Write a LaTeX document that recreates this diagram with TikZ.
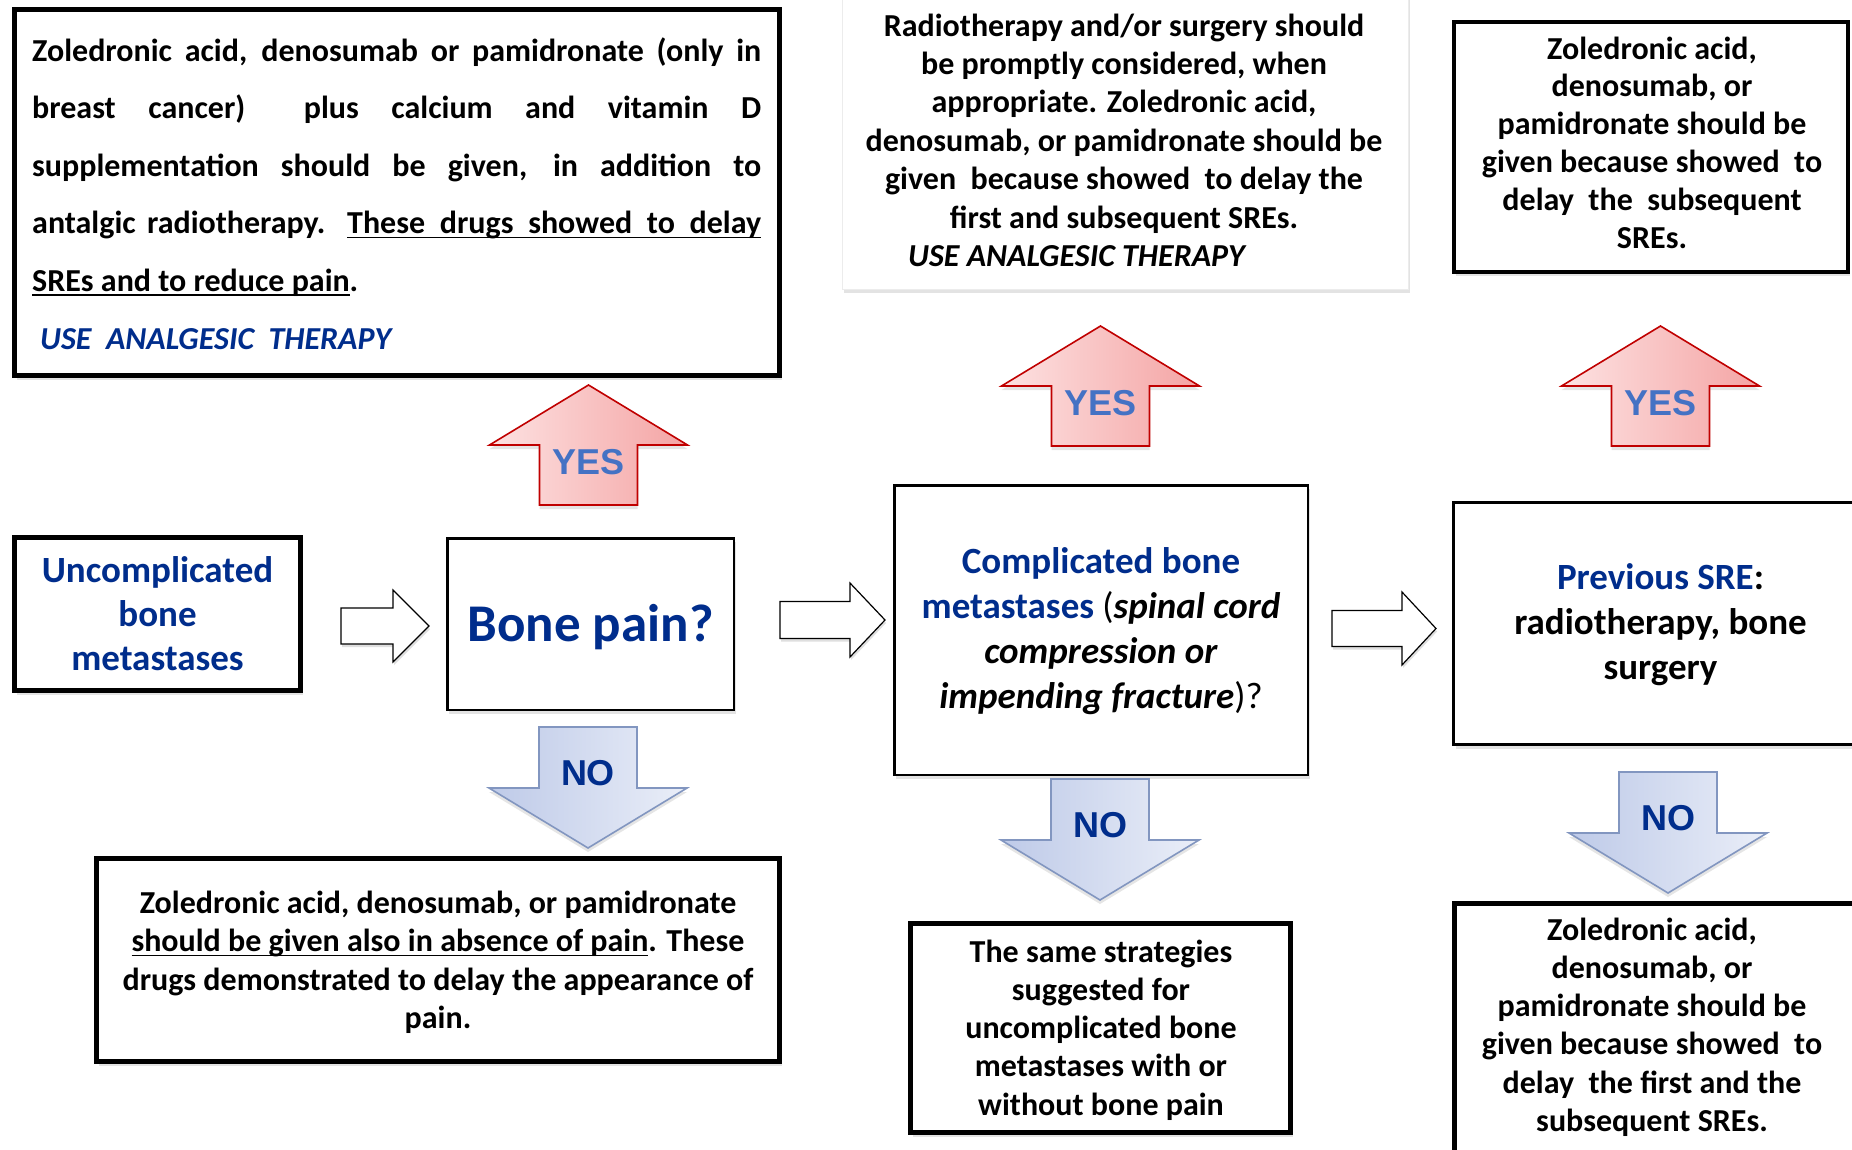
\documentclass[tikz,border=0pt]{standalone}
\usepackage{fontspec}
\setmainfont{Carlito}
\newfontfamily\arialf{Liberation Sans}
\usetikzlibrary{shadows,calc}
\definecolor{navy}{RGB}{0,45,140}
\definecolor{yesblue}{RGB}{68,114,196}
\definecolor{yesborder}{RGB}{192,0,0}
\definecolor{yesL}{RGB}{253,226,226}
\definecolor{yesR}{RGB}{244,164,164}
\definecolor{noborder}{RGB}{130,150,192}
\definecolor{noL}{RGB}{190,202,232}
\definecolor{noR}{RGB}{234,238,248}
\newcommand{\mytb}[4]{\parbox[t]{#1}{\centering\fontsize{#2}{#3}\selectfont\bfseries #4}}
\newsavebox\myulbox
\newcommand{\myul}[1]{\leavevmode\mbox{\sbox\myulbox{#1}\rlap{\usebox\myulbox}\rule[-4.6pt]{\wd\myulbox}{1.6pt}}}
\begin{document}
\begin{tikzpicture}[x=1pt,y=-1pt,
  box/.style={draw=black, fill=white, inner sep=0pt,
    drop shadow={shadow xshift=2pt,shadow yshift=-4pt,opacity=0.22}},
  txt/.style={inner sep=0pt, anchor=base},
  yesfill/.style={draw=yesborder, line width=1.6pt, left color=yesL, right color=yesR,
    drop shadow={shadow xshift=0pt,shadow yshift=-4pt,opacity=0.2}},
  nofill/.style={draw=noborder, line width=1.6pt, left color=noL, right color=noR,
    drop shadow={shadow xshift=0pt,shadow yshift=-4pt,opacity=0.2}},
  hollow/.style={draw=black, line width=1.2pt, fill=white,
    drop shadow={shadow xshift=1pt,shadow yshift=-3pt,opacity=0.25}},
  yeslbl/.style={inner sep=0pt, text=yesblue, font=\arialf\bfseries\fontsize{36}{40}\selectfont},
  nolbl/.style={inner sep=0pt, text=navy, font=\arialf\bfseries\fontsize{36}{40}\selectfont},
  yesarrow/.pic={\path[yesfill] (0,0) -- (99,60) -- (49,60) -- (49,120) -- (-49,120) -- (-49,60) -- (-99,60) -- cycle;
    \node[yeslbl] (-t) at (0,77) {YES};},
  noarrow/.pic={\path[nofill] (0,0) -- (99,-60) -- (49,-60) -- (49,-121) -- (-49,-121) -- (-49,-60) -- (-99,-60) -- cycle;
    \node[nolbl] (-t) at (0,-75) {NO};}
]
\useasboundingbox (0,0) rectangle (1852,1149);
\fill[white] (0,0) rectangle (1852,1149);

% boxes
\node[box, line width=5pt, minimum width=765pt, minimum height=366pt] (tl) at (397,192.5) {};
\node[box, draw=gray!15, line width=1pt, minimum width=566pt, minimum height=298pt] (tm) at (1125,140) {};
\node[box, line width=4pt, minimum width=394pt, minimum height=250pt] (tr) at (1651,147) {};
\node[box, line width=5pt, minimum width=286pt, minimum height=153pt] (unc) at (157.5,614) {};
\node[box, line width=2.5pt, minimum width=286.5pt, minimum height=171.5pt] (bone) at (590.5,624) {};
\node[box, line width=2.5pt, minimum width=413.5pt, minimum height=289.5pt] (comp) at (1101,630) {};
\node[box, line width=3pt, minimum width=415pt, minimum height=242pt] (prev) at (1661,623.5) {};
\node[box, line width=5pt, minimum width=683pt, minimum height=203pt] (bl) at (438,960) {};
\node[box, line width=5pt, minimum width=380pt, minimum height=209pt] (bm) at (1100.5,1028) {};
\node[box, line width=5pt, minimum width=413pt, minimum height=269pt] (br) at (1661,1038) {};

% texts
\node[txt, anchor=base west] (tl-t) at (32,61) {\parbox[t]{729pt}{\fontsize{32}{57.5}\selectfont\bfseries
  \makebox[729pt][s]{Zoledronic acid, denosumab or pamidronate (only in}\\
  \makebox[729pt][s]{breast cancer)\hspace{26pt} plus calcium and vitamin D}\\
  \makebox[729pt][s]{supplementation should be given, in addition to}\\
  \makebox[729pt][s]{antalgic radiotherapy. \myul{\makebox[414pt][s]{These drugs showed to delay}}}\\
  \myul{SREs and to reduce pain}.}};
\node[txt, anchor=base west, text=navy] (tl-u) at (40,349) {\fontsize{32}{38}\selectfont\bfseries\itshape USE\ \ ANALGESIC\ \ THERAPY};

\node[txt] (tm-t) at (1124,36) {\mytb{560pt}{32}{38.4}{Radiotherapy and/or surgery should\\ be promptly considered, when\\ appropriate. Zoledronic acid,\\ denosumab, or pamidronate should be\\ given\ \ because showed\ \ to delay the\\ first and subsequent SREs.}};
\node[txt, anchor=base west] (tm-u) at (908,266) {\fontsize{32}{38}\selectfont\bfseries\itshape USE ANALGESIC THERAPY};

\node[txt] (tr-t) at (1652,59) {\mytb{400pt}{32}{37.8}{Zoledronic acid,\\ denosumab, or\\ pamidronate should be\\ given because showed\ \ to\\ delay\ \ the\ \ subsequent\\ SREs.}};

\node[txt, text=navy] (unc-t) at (157.5,582) {\mytb{280pt}{37}{44}{Uncomplicated\\ bone\\ metastases}};
\node[txt, text=navy] (bone-t) at (590.5,641) {\fontsize{53}{60}\selectfont\bfseries Bone pain?};
\node[txt] (comp-t) at (1101,573) {\mytb{420pt}{37}{45}{\textcolor{navy}{Complicated bone}\\ \textcolor{navy}{metastases} {\mdseries(}\textit{spinal cord}\\ \textit{compression or}\\ \textit{impending fracture}{\mdseries)?}}};
\node[txt] (prev-t) at (1660.5,589) {\mytb{410pt}{37}{45}{\textcolor{navy}{Previous SRE}:\\ radiotherapy, bone\\ surgery}};

\node[txt] (bl-t) at (438,913.5) {\mytb{680pt}{32}{38.3}{Zoledronic acid, denosumab, or pamidronate\\ \myul{should be given also in absence of pain}. These\\ drugs demonstrated to delay the appearance of\\ pain.}};
\node[txt] (bm-t) at (1101,962) {\mytb{380pt}{32}{38.3}{The same strategies\\ suggested for\\ uncomplicated bone\\ metastases with or\\ without bone pain}};
\node[txt] (br-t) at (1652,940) {\mytb{410pt}{32}{38.3}{Zoledronic acid,\\ denosumab, or\\ pamidronate should be\\ given because showed\ \ to\\ delay\ \ the first and the\\ subsequent SREs.}};

% YES / NO arrows
\pic (y1) at (588.5,385) {yesarrow};
\pic (y2) at (1100.5,326) {yesarrow};
\pic (y3) at (1660.5,326) {yesarrow};
\pic (n1) at (588,848) {noarrow};
\pic (n2) at (1100,900) {noarrow};
\pic (n3) at (1668,893) {noarrow};

% hollow arrows between decision boxes
\coordinate (a1) at (341,626.5);
\draw[hollow] ($(a1)+(0,-18.5)$) -- ++(52,0) -- ++(0,-18) -- ++(36,36) -- ++(-36,36) -- ++(0,-18) -- ++(-52,0) -- cycle;
\coordinate (a2) at (780,620);
\draw[hollow] ($(a2)+(0,-18.5)$) -- ++(70,0) -- ++(0,-18.5) -- ++(35,37) -- ++(-35,37) -- ++(0,-18.5) -- ++(-70,0) -- cycle;
\coordinate (a3) at (1332,628.5);
\draw[hollow] ($(a3)+(0,-18)$) -- ++(70,0) -- ++(0,-18.5) -- ++(34,36.5) -- ++(-34,36.5) -- ++(0,-18.5) -- ++(-70,0) -- cycle;
\end{tikzpicture}
\end{document}
